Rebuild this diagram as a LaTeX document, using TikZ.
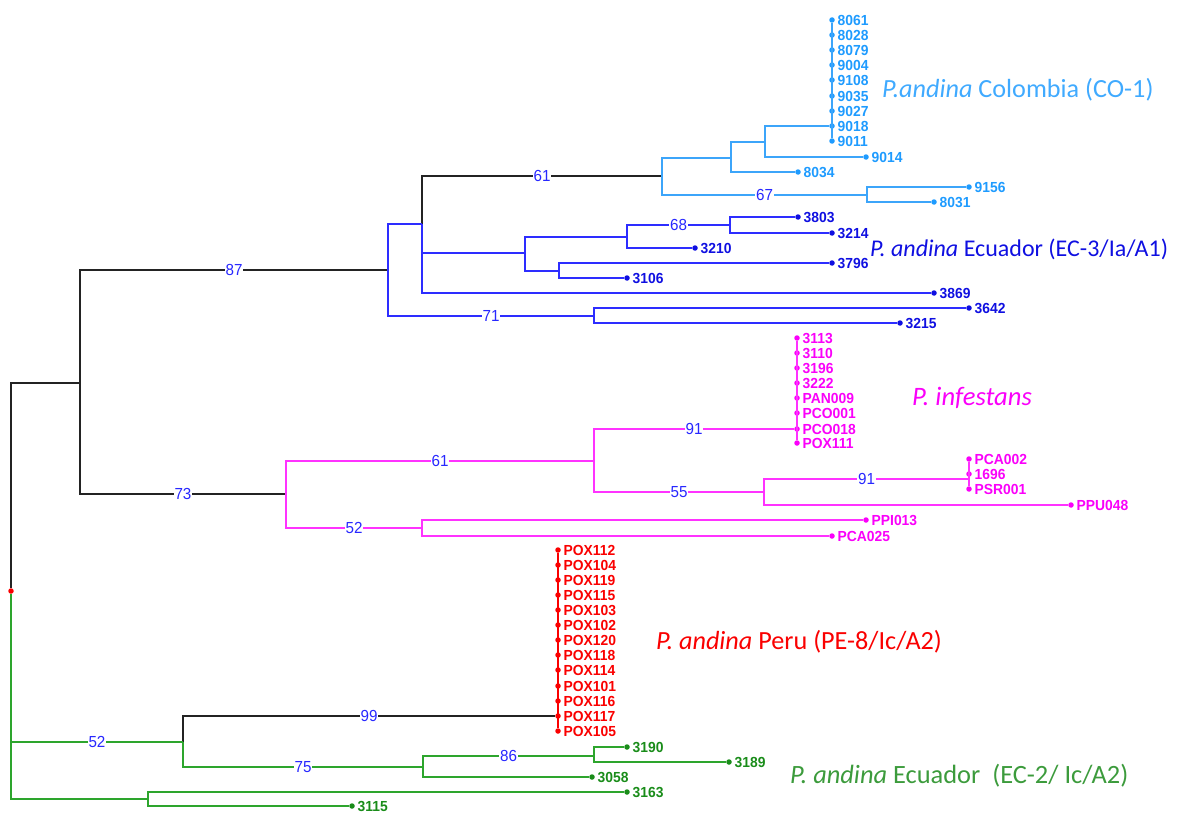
\documentclass[tikz,border=0pt]{standalone}
\usepackage{fontspec}
\setmainfont{Liberation Sans}
\newfontfamily\tipfont[FakeStretch=0.95]{Liberation Sans}
\newfontfamily\grpfont{Carlito}
\definecolor{coLine}{RGB}{60,165,250}
\definecolor{coText}{RGB}{30,155,255}
\definecolor{ecLine}{RGB}{45,45,255}
\definecolor{ecText}{RGB}{15,15,225}
\definecolor{inLine}{RGB}{255,50,255}
\definecolor{inText}{RGB}{250,0,250}
\definecolor{peText}{RGB}{250,0,0}
\definecolor{grLine}{RGB}{45,165,45}
\definecolor{grText}{RGB}{25,140,25}
\definecolor{grLab}{RGB}{60,155,60}
\definecolor{bsText}{RGB}{40,40,255}
\definecolor{blLine}{RGB}{35,35,35}

\begin{document}
\begin{tikzpicture}[
  x=1bp, y=-1bp,
  label distance=1.5bp,
  br/.style={line width=1.1bp},
  dot/.style={circle, fill, inner sep=0pt, minimum size=5.5bp},
  tiplab/.style={inner sep=1bp, font=\tipfont\bfseries\fontsize{14.6bp}{14.6bp}\selectfont},
  boot/.style={pos=.75, fill=white, text=bsText, inner sep=1bp, font=\tipfont\fontsize{16bp}{16bp}\selectfont},
  grp/.style={anchor=base west, inner sep=0pt, font=\grpfont\fontsize{#1}{#1}\selectfont},
  grp/.default=24bp,
  co/.style={dot, fill=coText, label={[tiplab, text=coText]right:#1}},
  ec/.style={dot, fill=ecText, label={[tiplab, text=ecText]right:#1}},
  in/.style={dot, fill=inText, label={[tiplab, text=inText]right:#1}},
  pe/.style={dot, fill=peText, label={[tiplab, text=peText]right:#1}},
  gr/.style={dot, fill=grText, label={[tiplab, text=grText]right:#1}}
]
\useasboundingbox (0,0) rectangle (1195,813);

% internal nodes
\coordinate (A) at (80,383);
\coordinate (B) at (388,270);
\coordinate (C) at (422,224);
\coordinate (E) at (662,176);
\coordinate (F) at (731,158);
\coordinate (G) at (765,142);
\coordinate (H) at (867,195);
\coordinate (D) at (525,253);
\coordinate (I) at (627,237);
\coordinate (J) at (730,225);
\coordinate (K) at (559,271);
\coordinate (L) at (594,316);
\coordinate (M) at (286,494);
\coordinate (N) at (594,461);
\coordinate (O) at (764,492);
\coordinate (P) at (422,528);
\coordinate (Q) at (183,742);
\coordinate (S) at (423,767);
\coordinate (T) at (594,756);
\coordinate (R) at (148,799);
\coordinate (pk) at (969,479);

% Colombia
\node[co=8061] (c8061) at (832,20) {};
\node[co=8028] (c8028) at (832,35) {};
\node[co=8079] (c8079) at (832,50) {};
\node[co=9004] (c9004) at (832,65) {};
\node[co=9108] (c9108) at (832,80) {};
\node[co=9035] (c9035) at (832,96) {};
\node[co=9027] (c9027) at (832,111) {};
\node[co=9018] (c9018) at (832,126) {};
\node[co=9011] (c9011) at (832,141) {};
\node[co=9014] (c9014) at (866,157) {};
\node[co=8034] (c8034) at (798,172) {};
\node[co=9156] (c9156) at (969,187) {};
\node[co=8031] (c8031) at (934,202) {};

% Ecuador EC-3
\node[ec=3803] (e3803) at (798,217) {};
\node[ec=3214] (e3214) at (832,233) {};
\node[ec=3210] (e3210) at (695,248) {};
\node[ec=3796] (e3796) at (832,263) {};
\node[ec=3106] (e3106) at (627,278) {};
\node[ec=3869] (e3869) at (934,293) {};
\node[ec=3642] (e3642) at (969,308) {};
\node[ec=3215] (e3215) at (900,323) {};

% infestans
\node[in=3113] (i3113) at (797,338) {};
\node[in=3110] (i3110) at (797,353) {};
\node[in=3196] (i3196) at (797,368) {};
\node[in=3222] (i3222) at (797,383) {};
\node[in=PAN009] (iPAN009) at (797,398) {};
\node[in=PCO001] (iPCO001) at (797,413) {};
\node[in=PCO018] (iPCO018) at (797,429) {};
\node[in=POX111] (iPOX111) at (797,443) {};
\node[in=PCA002] (iPCA002) at (969,459) {};
\node[in=1696] (i1696) at (969,474) {};
\node[in=PSR001] (iPSR001) at (969,489) {};
\node[in=PPU048] (iPPU048) at (1071,505) {};
\node[in=PPI013] (iPPI013) at (866,520) {};
\node[in=PCA025] (iPCA025) at (832,536) {};

% Peru
\node[pe=POX112] (pPOX112) at (558,550) {};
\node[pe=POX104] (pPOX104) at (558,565) {};
\node[pe=POX119] (pPOX119) at (558,580) {};
\node[pe=POX115] (pPOX115) at (558,595) {};
\node[pe=POX103] (pPOX103) at (558,610) {};
\node[pe=POX102] (pPOX102) at (558,625) {};
\node[pe=POX120] (pPOX120) at (558,640) {};
\node[pe=POX118] (pPOX118) at (558,655) {};
\node[pe=POX114] (pPOX114) at (558,670) {};
\node[pe=POX101] (pPOX101) at (558,686) {};
\node[pe=POX116] (pPOX116) at (558,701) {};
\node[pe=POX117] (pPOX117) at (558,716) {};
\node[pe=POX105] (pPOX105) at (558,731) {};

% Ecuador EC-2
\node[gr=3190] (g3190) at (627,747) {};
\node[gr=3189] (g3189) at (729,762) {};
\node[gr=3058] (g3058) at (592,777) {};
\node[gr=3163] (g3163) at (627,792) {};
\node[gr=3115] (g3115) at (352,806) {};

\node[dot, fill=peText] (root) at (11,591) {};

% branches
\draw[br, blLine] (root) |- (A);
\draw[br, blLine] (A) |- node[boot]{87} (B);
\draw[br, blLine] (A) |- node[boot]{73} (M);
\draw[br, blLine] (C) |- node[boot]{61} (E);
\draw[br, blLine] (Q) |- node[boot]{99} (pPOX117);

\draw[br, coLine] (E) |- (F);
\draw[br, coLine] (E) |- node[boot]{67} (H);
\draw[br, coLine] (F) |- (G);
\draw[br, coLine] (F) |- (c8034);
\draw[br, coLine] (G) |- (c9018);
\draw[br, coLine] (G) |- (c9014);
\draw[br, coLine] (H) |- (c9156);
\draw[br, coLine] (H) |- (c8031);
\draw[br, coLine] (c8061) -- (c9011);

\draw[br, ecLine] (B) |- (C);
\draw[br, ecLine] (B) |- node[boot]{71} (L);
\draw[br, ecLine] (C) |- (D);
\draw[br, ecLine] (C) |- (e3869);
\draw[br, ecLine] (D) |- (I);
\draw[br, ecLine] (D) |- (K);
\draw[br, ecLine] (I) |- node[boot]{68} (J);
\draw[br, ecLine] (I) |- (e3210);
\draw[br, ecLine] (J) |- (e3803);
\draw[br, ecLine] (J) |- (e3214);
\draw[br, ecLine] (K) |- (e3796);
\draw[br, ecLine] (K) |- (e3106);
\draw[br, ecLine] (L) |- (e3642);
\draw[br, ecLine] (L) |- (e3215);

\draw[br, inLine] (M) |- node[boot]{61} (N);
\draw[br, inLine] (M) |- node[boot]{52} (P);
\draw[br, inLine] (N) |- node[boot]{91} (iPCO018);
\draw[br, inLine] (N) |- node[boot]{55} (O);
\draw[br, inLine] (O) |- node[boot]{91} (pk);
\draw[br, inLine] (O) |- (iPPU048);
\draw[br, inLine] (P) |- (iPPI013);
\draw[br, inLine] (P) |- (iPCA025);
\draw[br, inLine] (i3113) -- (iPOX111);
\draw[br, inLine] (iPCA002) -- (iPSR001);

\draw[br, peText] (pPOX112) -- (pPOX105);

\draw[br, grLine] (root) |- node[boot]{52} (Q);
\draw[br, grLine] (root) |- (R);
\draw[br, grLine] (Q) |- node[boot]{75} (S);
\draw[br, grLine] (S) |- node[boot]{86} (T);
\draw[br, grLine] (S) |- (g3058);
\draw[br, grLine] (T) |- (g3190);
\draw[br, grLine] (T) |- (g3189);
\draw[br, grLine] (R) |- (g3163);
\draw[br, grLine] (R) |- (g3115);

% group labels
\node[grp=26.2bp, text=coText!85!white] (lco) at (882,98) {\textit{P.andina} Colombia (CO-1)};
\node[grp, text=ecText] (lec) at (870,256) {\textit{P. andina} Ecuador (EC-3/Ia/A1)};
\node[grp=26.6bp, text=inText] (lin) at (912,405) {\textit{P. infestans}};
\node[grp=26.2bp, text=peText] (lpe) at (656,649) {\textit{P. andina} Peru (PE-8/Ic/A2)};
\node[grp=26.4bp, text=grLab] (lgr) at (790,783) {\textit{P. andina} Ecuador\ \ (EC-2/ Ic/A2)};
\end{tikzpicture}
\end{document}
